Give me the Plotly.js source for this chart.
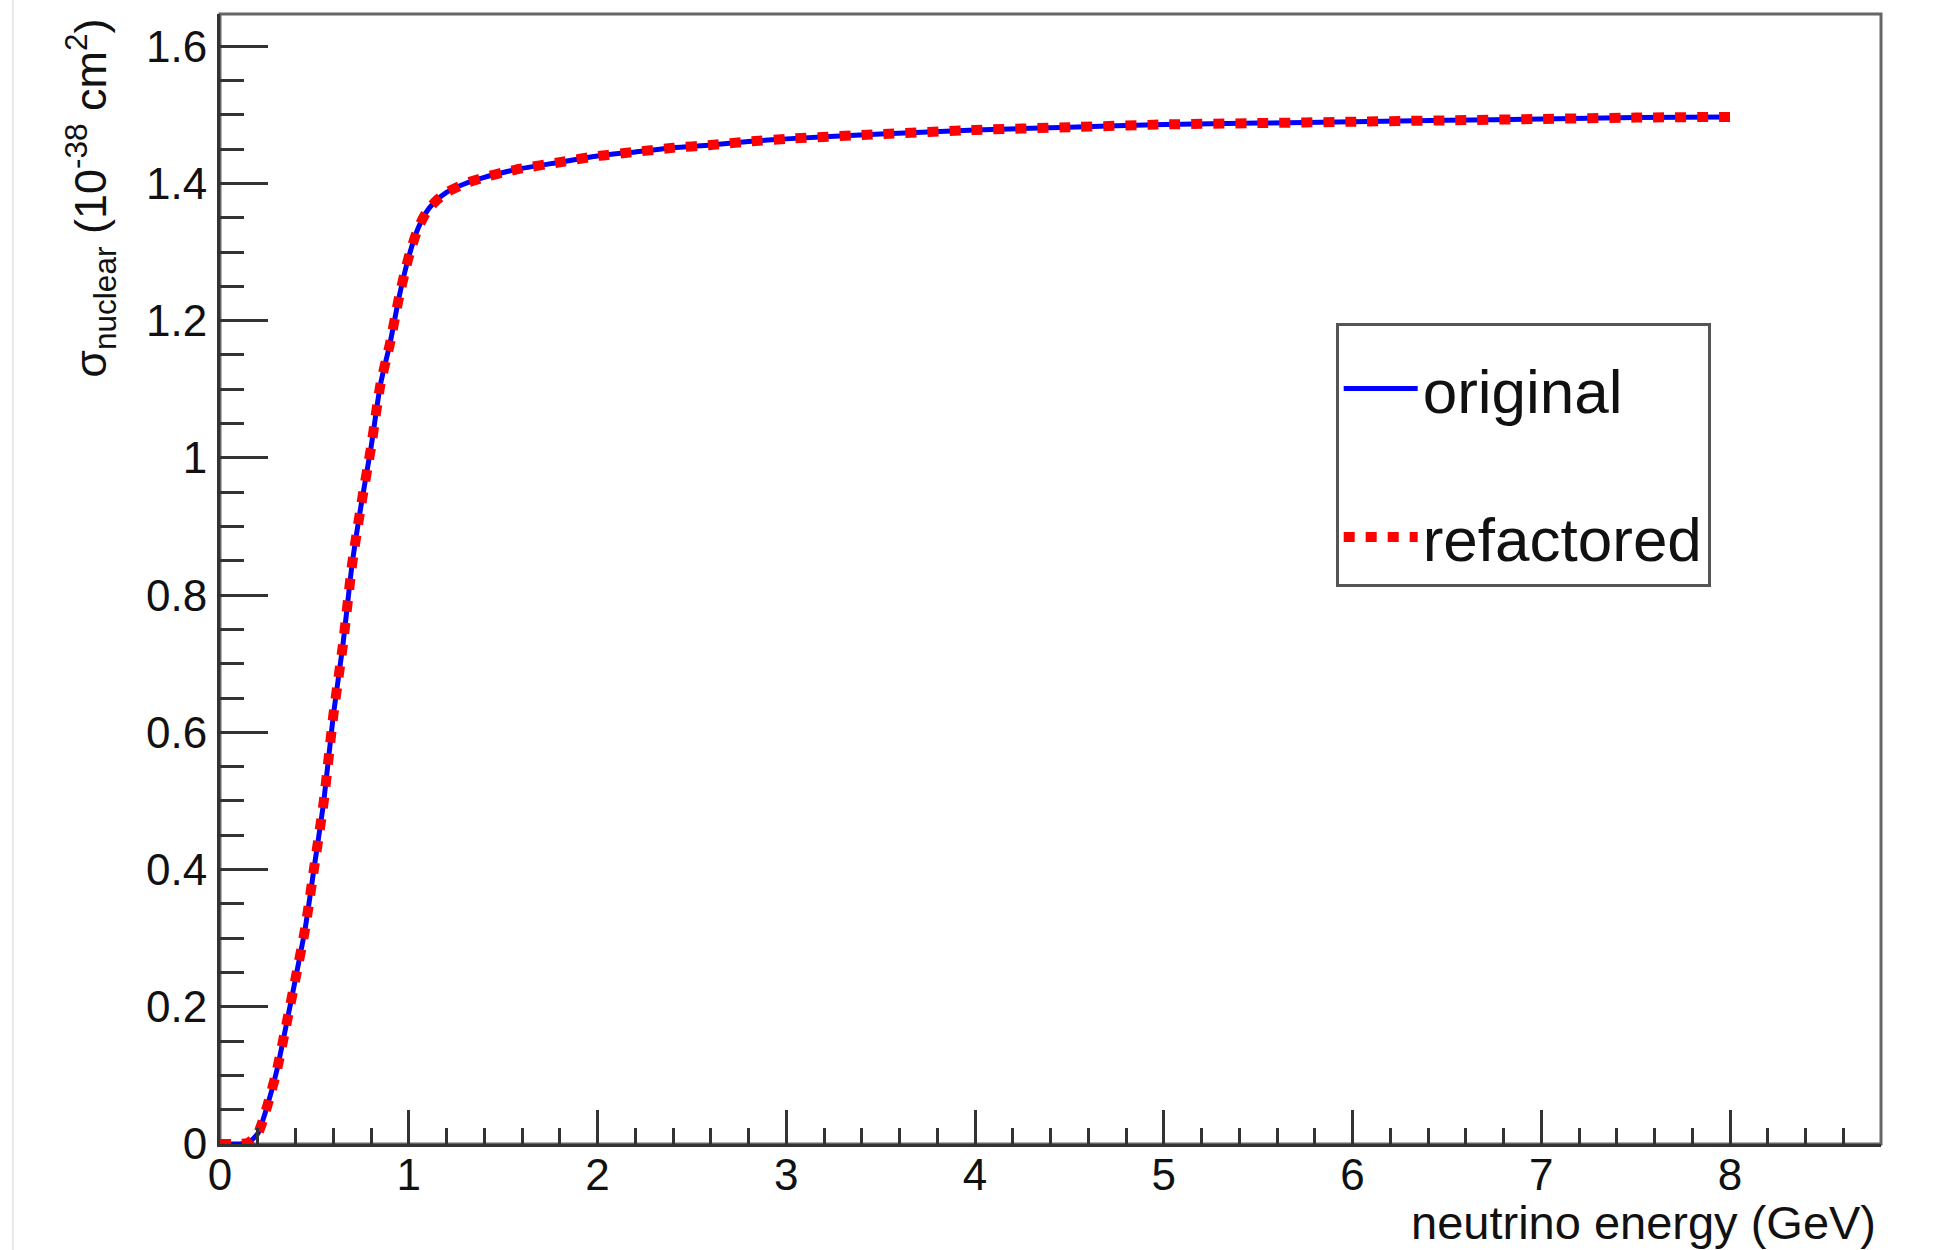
<!DOCTYPE html>
<html>
<head>
<meta charset="utf-8">
<script src="https://cdn.plot.ly/plotly-3.0.1.min.js"></script>
<style>
  html, body { margin: 0; padding: 0; background: #ffffff; }
  #chart { width: 1933px; height: 1250px; }
</style>
</head>
<body>
<div id="chart"></div>
<script>
// ---- data ----
const energyGeV = [0, 0.05, 0.1, 0.15, 0.2, 0.25, 0.3, 0.35, 0.4, 0.45, 0.5, 0.55, 0.6, 0.65, 0.7, 0.75,
  0.8, 0.85, 0.9, 0.95, 1.0, 1.05, 1.1, 1.15, 1.2, 1.3, 1.4, 1.5, 1.6, 1.8, 2.0, 2.2, 2.4, 2.6, 2.8,
  3.0, 3.5, 4.0, 4.5, 5.0, 5.5, 6.0, 6.5, 7.0, 7.5, 8.0];
const sigmaOriginal = [0, 0, 0, 0.002, 0.015, 0.055, 0.106, 0.172, 0.241, 0.312, 0.405, 0.500, 0.624, 0.725, 0.845, 0.935,
  1.015, 1.107, 1.166, 1.236, 1.293, 1.335, 1.361, 1.376, 1.387, 1.400, 1.409, 1.416, 1.422, 1.431, 1.440, 1.446, 1.452, 1.456, 1.461,
  1.465, 1.472, 1.478, 1.482, 1.486, 1.488, 1.490, 1.492, 1.494, 1.496, 1.497];
const sigmaRefactored = [0, 0, 0, 0.002, 0.015, 0.055, 0.106, 0.172, 0.241, 0.312, 0.405, 0.500, 0.624, 0.725, 0.845, 0.935,
  1.015, 1.107, 1.166, 1.236, 1.293, 1.335, 1.361, 1.376, 1.387, 1.400, 1.409, 1.416, 1.422, 1.431, 1.440, 1.446, 1.452, 1.456, 1.461,
  1.465, 1.472, 1.478, 1.482, 1.486, 1.488, 1.490, 1.492, 1.494, 1.496, 1.497];
const seriesNames = ['original', 'refactored'];
const xTitleText = 'neutrino energy (GeV)';
const yTitleText = 'σ<sub>nuclear</sub> (10<sup>-38</sup> cm<sup>2</sup>)';
const xRange = [0, 8.8];
const yRange = [0, 1.647];

// ---- styling ----
const FONT = '"Liberation Sans", Arial, Helvetica, sans-serif';
const AX = '#333333';

const traces = [
  {
    x: energyGeV, y: sigmaOriginal, name: seriesNames[0], type: 'scatter', mode: 'lines',
    line: { color: '#0000ff', width: 5, shape: 'spline', smoothing: 0.6 },
    legendgroup: 'g1'
  },
  {
    x: energyGeV, y: sigmaRefactored, name: seriesNames[1], type: 'scatter', mode: 'lines',
    line: { color: '#ff0000', width: 10, dash: '11px,11px', shape: 'spline', smoothing: 0.6 },
    legendgroup: 'g2'
  }
];

const layout = {
  width: 1933, height: 1250,
  margin: { l: 220, r: 52, t: 14, b: 106, pad: 0 },
  paper_bgcolor: '#ffffff', plot_bgcolor: '#ffffff',
  font: { family: FONT, color: '#111111', size: 42 },
  showlegend: true,
  legend: {
    x: 0.6717, y: 0.7265, xanchor: 'left', yanchor: 'top',
    bgcolor: '#ffffff', bordercolor: '#555555', borderwidth: 3,
    font: { family: FONT, size: 62, color: '#111111' },
    title: { text: ' ', font: { family: FONT, size: 12 } },
    itemwidth: 74, tracegroupgap: 65, traceorder: 'grouped',
    entrywidth: 330, entrywidthmode: 'pixels'
  },
  xaxis: {
    range: xRange, showgrid: false, zeroline: false,
    showline: true, linecolor: AX, linewidth: 3,
    ticks: 'inside', ticklen: 34, tickwidth: 3, tickcolor: AX,
    tick0: 0, dtick: 1,
    minor: { dtick: 0.2, ticks: 'inside', ticklen: 16, tickwidth: 3, tickcolor: AX, showgrid: false },
    tickfont: { family: FONT, size: 44, color: '#111111' },
    ticklabelstandoff: -10
  },
  yaxis: {
    range: yRange, showgrid: false, zeroline: false,
    showline: true, linecolor: AX, linewidth: 3,
    ticks: 'inside', ticklen: 48, tickwidth: 3, tickcolor: AX,
    tick0: 0, dtick: 0.2,
    minor: { dtick: 0.05, ticks: 'inside', ticklen: 24, tickwidth: 3, tickcolor: AX, showgrid: false },
    tickfont: { family: FONT, size: 44, color: '#111111' },
    ticklabelstandoff: 1
  },
  shapes: [
    { type: 'rect', xref: 'paper', yref: 'paper', x0: 0, x1: 1, y0: 0, y1: 1,
      line: { color: '#666666', width: 3 }, layer: 'below' },
    { type: 'line', xref: 'paper', yref: 'paper', x0: -0.1247, x1: -0.1247, y0: -0.0938, y1: 1.0124,
      line: { color: '#e8e8e8', width: 2 }, layer: 'below' }
  ],
  annotations: [
    { text: xTitleText, xref: 'paper', yref: 'paper', x: 0.998, y: -0.044, xanchor: 'right', yanchor: 'top',
      showarrow: false, font: { family: FONT, size: 47, color: '#111111' } },
    { text: yTitleText, xref: 'paper', yref: 'paper', x: -0.0783, y: 0.998, xanchor: 'center', yanchor: 'top',
      textangle: -90, showarrow: false, font: { family: FONT, size: 45, color: '#111111' } }
  ]
};

Plotly.newPlot('chart', traces, layout, { staticPlot: true, displayModeBar: false });
</script>
</body>
</html>
